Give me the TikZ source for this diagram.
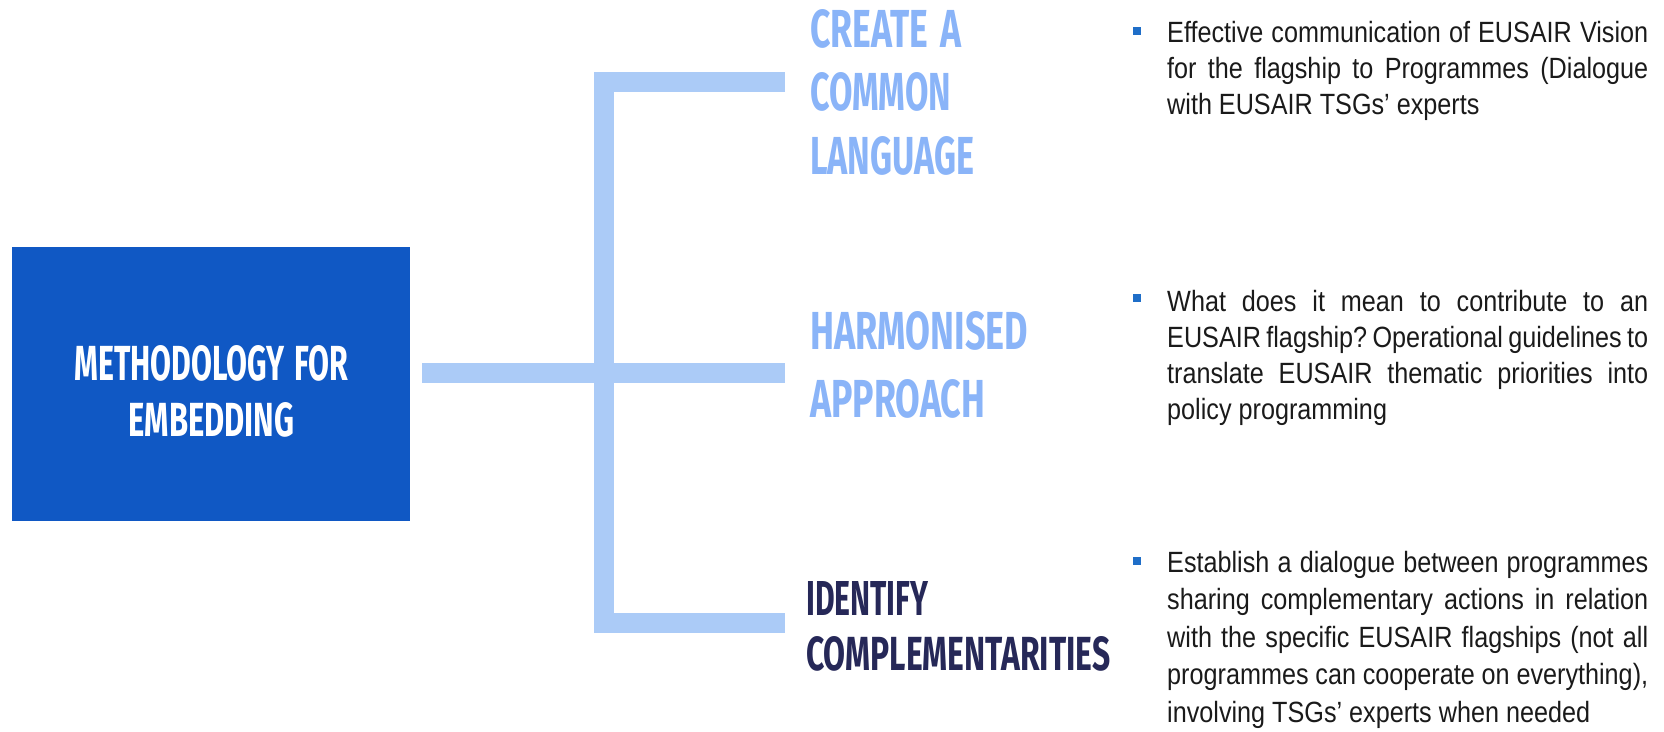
\documentclass[tikz,border=0pt]{standalone}
\usepackage{fontspec}
\newfontfamily\headfont{Fira Sans}
\newfontfamily\descfont{Liberation Sans}[FakeStretch=0.86]
\definecolor{boxblue}{RGB}{16,88,196}
\definecolor{barblue}{RGB}{171,203,247}
\definecolor{lightlabel}{RGB}{138,180,248}
\definecolor{navy}{RGB}{38,40,88}
\definecolor{bulletblue}{RGB}{31,110,200}
\definecolor{desccolor}{RGB}{26,26,26}
\newcommand\hl[3]{\resizebox{#1pt}{#2pt}{\headfont\bfseries #3}}
\begin{document}
\begin{tikzpicture}[x=1pt,y=-1pt,
  bar/.style={line width=20pt, draw=barblue, line join=miter, line cap=butt},
  headtext/.style={anchor=base west, inner sep=0pt, text width=340pt, align=left},
  desc/.style={anchor=base west, inner sep=0pt, text width=481pt, align=justify, text=desccolor},
  bulletsq/.style={fill=bulletblue, minimum size=8pt, inner sep=0pt}]
\useasboundingbox (0,0) rectangle (1664,731);

% main box
\node (box) [fill=boxblue, minimum width=398pt, minimum height=274pt, inner sep=0pt, anchor=north west] at (12,247) {};
\node (title) [anchor=base, inner sep=0pt, text width=340pt, align=center, text=white,
  font=\fontsize{50}{56}\selectfont] at (211.5,380)
  {\hl{274}{35}{METHODOLOGY FOR}\\\hl{166}{34}{EMBEDDING}};

% connector bars
\coordinate (stubstart) at ([xshift=12pt]box.east);
\coordinate (topend) at (785,82);
\coordinate (midend) at (785,373);
\coordinate (botend) at (785,623);
\coordinate (spine) at (603.5,0);
\draw[bar] (topend) -| (spine |- botend) -- (botend);
\draw[bar] (stubstart |- midend) -- (midend);

% branch labels
\node (lab1) [headtext, text=lightlabel, font=\fontsize{56}{63.5}\selectfont] at (810,47)
  {\hl{151}{38}{CREATE A}\\\hl{141}{38}{COMMON}\\\hl{164}{38}{LANGUAGE}};
\node (lab2) [headtext, text=lightlabel, font=\fontsize{56}{68}\selectfont] at (810,349)
  {\hl{218}{38}{HARMONISED}\\\hl{175}{38}{APPROACH}};
\node (lab3) [headtext, text=navy, font=\fontsize{50}{55}\selectfont] at (806,615)
  {\hl{122}{34}{IDENTIFY}\\\hl{304}{34}{COMPLEMENTARITIES}};

% bullets
\node (b1) [bulletsq] at (1137,31) {};
\node (b2) [bulletsq] at (1137,298) {};
\node (b3) [bulletsq] at (1137,561) {};

% descriptions
\node (d1) [desc, font=\descfont\fontsize{29.3}{36}\selectfont\frenchspacing] at (1167,42)
  {Effective communication of EUSAIR Vision\linebreak for the flagship to Programmes (Dialogue\linebreak with EUSAIR TSGs’ experts};
\node (d2) [desc, font=\descfont\fontsize{29.3}{36}\selectfont\frenchspacing] at (1167,311)
  {What does it mean to contribute to an\linebreak EUSAIR flagship? Operational guidelines to\linebreak translate EUSAIR thematic priorities into\linebreak policy programming};
\node (d3) [desc, font=\descfont\fontsize{29.3}{37.5}\selectfont\frenchspacing] at (1167,572)
  {Establish a dialogue between programmes\linebreak sharing complementary actions in relation\linebreak with the specific EUSAIR flagships (not all\linebreak programmes can cooperate on everything),\linebreak involving TSGs’ experts when needed};
\end{tikzpicture}
\end{document}
